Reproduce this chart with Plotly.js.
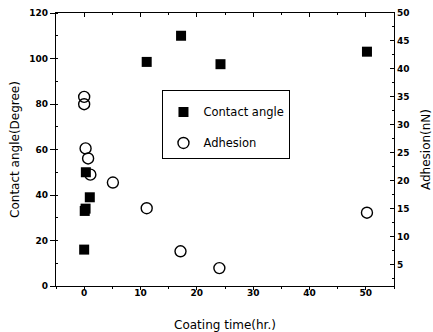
<!DOCTYPE html>
<html>
<head>
<meta charset="utf-8">
<script src="https://cdn.plot.ly/plotly-3.0.1.min.js"></script>
<style>html,body{margin:0;padding:0;background:#fff;}#chart{width:433px;height:332px;}</style>
</head>
<body>
<div id="chart"></div>
<script>
// Contact angle (left axis, degrees)
const contactTime = [0, 0.1, 0.25, 0.3, 1.0, 11.1, 17.2, 24.2, 50.2];
const contactAngle = [16, 33, 34, 50, 39, 98.5, 110, 97.5, 103];
// Adhesion (right axis, nN)
const adhesionTime = [0, 0, 0.25, 0.7, 1.1, 5.1, 11.1, 17.1, 24.0, 50.2];
const adhesionVal = [35, 33.7, 25.8, 24, 21.1, 19.7, 15.1, 7.4, 4.4, 14.3];

const seriesNames = ["Contact angle", "Adhesion"];
const xTitle = "Coating time(hr.)";
const yTitle = "Contact angle(Degree)";
const y2Title = "Adhesion(nN)";

const tickFont = {family: "DejaVu Sans, sans-serif", size: 9, color: "#000", weight: "bold"};
const titleFont = {family: "DejaVu Sans, sans-serif", size: 12, color: "#000"};

const traces = [
  {
    x: contactTime, y: contactAngle, type: "scatter", mode: "markers",
    name: seriesNames[0], legendgroup: "a",
    marker: {symbol: "square", size: 10, color: "#000", line: {width: 0}}
  },
  {
    x: adhesionTime, y: adhesionVal, type: "scatter", mode: "markers",
    name: seriesNames[1], legendgroup: "b", yaxis: "y2",
    marker: {symbol: "circle-open", size: 11, color: "#000", line: {width: 1.4, color: "#000"}}
  },
  {
    x: [null], y: [null], xaxis: "x2", type: "scatter", mode: "markers",
    showlegend: false, hoverinfo: "skip"
  }
];

const layout = {
  width: 433, height: 332,
  margin: {l: 55.5, r: 39, t: 13, b: 46},
  paper_bgcolor: "#fff", plot_bgcolor: "#fff",
  showlegend: true,
  xaxis: {
    range: [-5, 55], dtick: 10, tick0: 0,
    showgrid: false, zeroline: false,
    showline: true, linecolor: "#000", linewidth: 1.2,
    ticks: "outside", ticklen: 3, tickcolor: "#000", tickwidth: 1,
    minor: {dtick: 5, ticks: "outside", ticklen: 2, tickcolor: "#000"},
    tickfont: tickFont, ticklabelstandoff: -5,
    title: {text: xTitle, font: titleFont, standoff: 25}
  },
  xaxis2: {
    overlaying: "x", side: "top", range: [-5, 55], dtick: 10, tick0: 0,
    showgrid: false, zeroline: false,
    showline: true, linecolor: "#000", linewidth: 1.2,
    ticks: "inside", ticklen: 4, tickcolor: "#000",
    minor: {dtick: 5, ticks: "inside", ticklen: 2, tickcolor: "#000"},
    showticklabels: false
  },
  yaxis: {
    range: [0, 120], dtick: 20,
    showgrid: false, zeroline: false,
    showline: true, linecolor: "#000", linewidth: 1.2,
    ticks: "outside", ticklen: 5, tickcolor: "#000",
    minor: {dtick: 10, ticks: "inside", ticklen: 2, tickcolor: "#000"},
    tickfont: tickFont,
    title: {text: yTitle, font: titleFont, standoff: 7}
  },
  yaxis2: {
    overlaying: "y", side: "right", range: [1.2, 50], tick0: 0, dtick: 5,
    showgrid: false, zeroline: false,
    showline: true, linecolor: "#000", linewidth: 1.2,
    ticks: "inside", ticklen: 4, tickcolor: "#000",
    minor: {dtick: 2.5, ticks: "inside", ticklen: 2, tickcolor: "#000"},
    tickfont: tickFont,
    title: {text: y2Title, font: titleFont, standoff: 14}
  },
  legend: {
    x: 0.315, y: 0.718, xanchor: "left", yanchor: "top",
    bgcolor: "#fff", bordercolor: "#000", borderwidth: 1,
    font: {family: "DejaVu Sans, sans-serif", size: 11.5, color: "#000"},
    title: {text: "\u00a0", font: {size: 5}},
    traceorder: "grouped", tracegroupgap: 12, itemwidth: 30, entrywidth: 100
  }
};

Plotly.newPlot("chart", traces, layout, {displayModeBar: false, staticPlot: true});
</script>
</body>
</html>
